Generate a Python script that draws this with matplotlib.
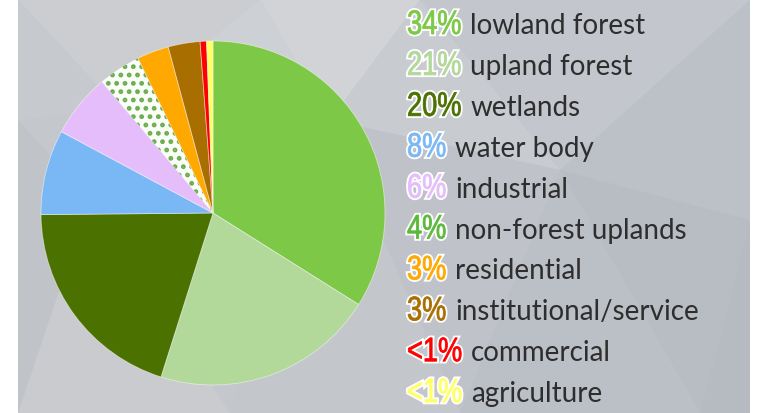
import matplotlib
matplotlib.use("Agg")
import matplotlib.pyplot as plt
import matplotlib.patheffects as pe
from matplotlib.patches import Rectangle, Polygon, PathPatch
from matplotlib.textpath import TextPath
from matplotlib.font_manager import FontProperties
from matplotlib.transforms import Affine2D

# land use shares, clockwise from 12 o'clock
categories = ['lowland forest', 'upland forest', 'wetlands', 'water body', 'industrial',
              'non-forest uplands', 'residential', 'institutional/service', 'commercial', 'agriculture']
shares = [34, 21, 20, 8, 6, 4, 3, 3, 0.6, 0.6]
pct_labels = ['34%', '21%', '20%', '8%', '6%', '4%', '3%', '3%', '<1%', '<1%']
colors = ['#7dc847', '#b2d89a', '#4b7200', '#7ab8f5', '#e5bdfb',
          '#fbfdf8', '#ffa800', '#a86f00', '#ff0000', '#ffff66']
pct_colors = ['#7dc847', '#b2d89a', '#4b7200', '#7ab8f5', '#e5bdfb',
              '#5cb83a', '#ffa800', '#a86f00', '#ff0000', '#ffff66']

W, H = 765, 413
fig = plt.figure(figsize=(W / 100, H / 100), dpi=100, facecolor='white')

# grey low-poly backdrop
def px(pts):
    return [(x / W, 1 - y / H) for x, y in pts]

fig.patches.append(Rectangle((18 / W, 0), (750 - 18) / W, 1, transform=fig.transFigure,
                             facecolor='#c4c7cc', edgecolor='none', zorder=-2))
facets = [
    ([(18, 0), (260, 0), (120, 110)], '#cbcdd1'),
    ([(260, 0), (420, 0), (330, 120)], '#d2d3d7'),
    ([(120, 110), (260, 0), (330, 120)], '#cdd0d4'),
    ([(18, 0), (120, 110), (18, 120)], '#c6c9cd'),
    ([(18, 120), (90, 200), (18, 413)], '#c0c4c9'),
    ([(18, 413), (90, 200), (230, 413)], '#c9cbcf'),
    ([(420, 0), (750, 0), (560, 170)], '#c3c6cc'),
    ([(560, 170), (750, 0), (750, 220)], '#bcc0c7'),
    ([(330, 120), (420, 0), (560, 170)], '#c8cbd0'),
    ([(330, 120), (560, 170), (460, 413)], '#bfc3c9'),
    ([(560, 170), (750, 220), (700, 413)], '#b8bcc3'),
    ([(460, 413), (560, 170), (700, 413)], '#bbbfc6'),
    ([(700, 413), (750, 220), (750, 413)], '#b6bac1'),
    ([(230, 413), (330, 120), (460, 413)], '#c3c6cb'),
]
for pts, c in facets:
    fig.patches.append(Polygon(px(pts), closed=True, transform=fig.transFigure,
                               facecolor=c, edgecolor='none', zorder=-1))

# pie
plt.rcParams['hatch.linewidth'] = 2.2
ax = fig.add_axes([41 / W, 1 - 385 / H, 344 / W, 344 / H], zorder=1)
ax.set_facecolor('none')
wedges, _ = ax.pie(shares, colors=colors, startangle=90, counterclock=False,
                   wedgeprops=dict(linewidth=0.6, edgecolor=(1, 1, 1, 0.5)))
wedges[5].set_hatch('..')
wedges[5].set_edgecolor('#6aad4c')
wedges[5].set_linewidth(0)
ax.set_xlim(-1, 1)
ax.set_ylim(-1, 1)
ax.set_aspect('equal')
ax.axis('off')

# legend: condensed, outlined percentage plus category name
pct_font = FontProperties(family='Liberation Sans')
y0, step = 34, 40.9
for i, (pct, name, pc) in enumerate(zip(pct_labels, categories, pct_colors)):
    ybase = H - (y0 + i * step)
    path = TextPath((0, 0), pct, size=34, prop=pct_font)
    tr = Affine2D().scale(0.8, 1.0).translate(407, ybase)
    patch = PathPatch(path, transform=tr, facecolor=pc, edgecolor=pc, linewidth=0.6,
                      zorder=3, path_effects=[pe.withStroke(linewidth=3.2, foreground='white')])
    fig.patches.append(patch)
    x_end = 407 + 0.8 * path.get_extents().x1
    fig.text((x_end + 10) / W, ybase / H, name, color='#2e2e2e', fontsize=20,
             family='Lato', va='baseline', ha='left', zorder=3)

fig.savefig('out.png', dpi=100, facecolor='white')
